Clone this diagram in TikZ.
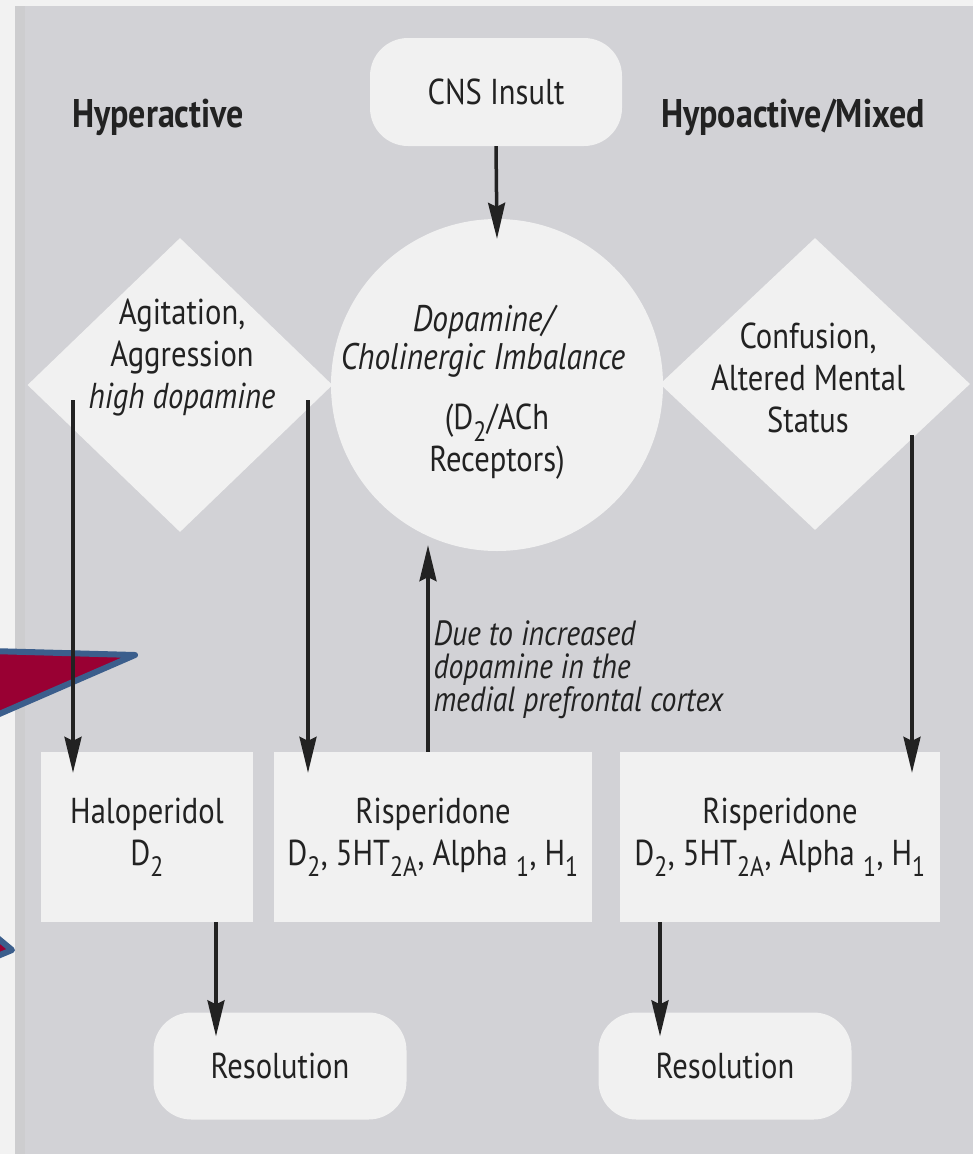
\documentclass[tikz,border=0pt]{standalone}
\usepackage{fontspec}
\setmainfont{PT Sans}[FakeStretch=0.85]
\usetikzlibrary{shapes.geometric,arrows.meta,calc}
\definecolor{panel}{HTML}{D2D2D6}
\definecolor{paneledge}{HTML}{CDCDCF}
\definecolor{paper}{HTML}{F2F2F2}
\definecolor{nodefill}{HTML}{F1F1F1}
\definecolor{ink}{HTML}{222222}
\definecolor{wine}{HTML}{990033}
\definecolor{steel}{HTML}{3B5E8C}
\newcommand{\lowsub}[1]{\textsubscript{\fontsize{28}{28}\selectfont #1}}
\begin{document}
\begin{tikzpicture}[x=1pt,y=-1pt,
  every node/.style={font=\fontsize{36}{42}\selectfont, text=ink, align=center},
  box/.style={rectangle, fill=nodefill, draw=none, inner sep=0},
  term/.style={rectangle, fill=nodefill, draw=none, rounded corners=38pt, inner sep=0},
  dia/.style={diamond, fill=nodefill, draw=none, inner sep=0},
  heading/.style={font=\fontsize{40}{42}\selectfont\bfseries},
  note/.style={font=\fontsize{35}{33}\selectfont\itshape, align=left, anchor=west},
  arr/.style={draw=ink, line width=3.5pt, -{Stealth[length=36pt,width=17pt,inset=4pt]}},
  shard/.style={fill=wine, draw=steel, line width=6pt, line join=round}]
\useasboundingbox (0,0) rectangle (973,1154);
\begin{scope}
\clip (0,0) rectangle (973,1154);
% background
\fill[paper] (0,0) rectangle (973,1154);
\fill[panel] (15,6) rectangle (973,1154);
\fill[paneledge] (15,6) rectangle (25,1154);

% nodes
\node[term, minimum width=252pt, minimum height=108pt] (cns) at (496,92) {CNS Insult};
\node[heading] (hyper) at (158,117) {Hyperactive};
\node[heading] (hypo) at (793,117) {Hypoactive/Mixed};

\node[circle, fill=nodefill, minimum size=332pt, inner sep=0] (circ) at (497,385) {};
\node[font=\fontsize{37}{38}\selectfont\itshape] (circtop) at (483,341) {Dopamine/\\Cholinergic Imbalance};
\node (circbot) at (497,442) {(D\lowsub{2}/ACh\\Receptors)};

\node[dia, minimum width=305pt, minimum height=294pt] (ldia) at (180,385) {};
\node (ltext) at (182,358) {Agitation,\\Aggression\\\itshape high dopamine};
\node[dia, minimum width=310pt, minimum height=292pt] (rdia) at (815,384) {};
\node (rtext) at (808,378) {Confusion,\\Altered Mental\\Status};

\node[box, minimum width=212pt, minimum height=170pt] (halo) at (147,837) {Haloperidol\\D\lowsub{2}};
\node[box, minimum width=318pt, minimum height=170pt] (risp1) at (433,837) {Risperidone\\D\lowsub{2}, 5HT\lowsub{2A}, Alpha \lowsub{1}, H\lowsub{1}};
\node[box, minimum width=320pt, minimum height=170pt] (risp2) at (780,837) {Risperidone\\D\lowsub{2}, 5HT\lowsub{2A}, Alpha \lowsub{1}, H\lowsub{1}};

\node[term, minimum width=253pt, minimum height=107pt] (res1) at (280,1066) {Resolution};
\node[term, minimum width=253pt, minimum height=107pt] (res2) at (725,1066) {Resolution};

\node[note] (due) at (430,670) {Due to increased\\dopamine in the\\medial prefrontal cortex};

% overlay shapes at the left edge
\filldraw[shard] (-10,651) -- (135,655) -- (-10,718) -- cycle;
\filldraw[shard] (-12,930) -- (12,950) -- (-12,960) -- cycle;

% connectors
\coordinate (lstart) at (73,400);
\coordinate (mstart) at (308,400);
\coordinate (rstart) at (912,435);
\coordinate (upx) at (428,0);
\coordinate (b1) at (216,0);
\coordinate (b2) at (660,0);

\draw[arr] (cns.south) -- ($(circ.north)+(0,20)$);
\draw[arr] (lstart) -- ($(lstart |- halo.north)+(0,21)$);
\draw[arr] (mstart) -- ($(mstart |- risp1.north)+(0,21)$);
\draw[arr] (rstart) -- ($(rstart |- risp2.north)+(0,21)$);
\draw[arr] (risp1.north -| upx) -- ($(circ.south -| upx)+(0,-6)$);
\draw[arr] (halo.south -| b1) -- ($(res1.north -| b1)+(0,24)$);
\draw[arr] (risp2.south -| b2) -- ($(res2.north -| b2)+(0,24)$);
\end{scope}
\end{tikzpicture}
\end{document}
